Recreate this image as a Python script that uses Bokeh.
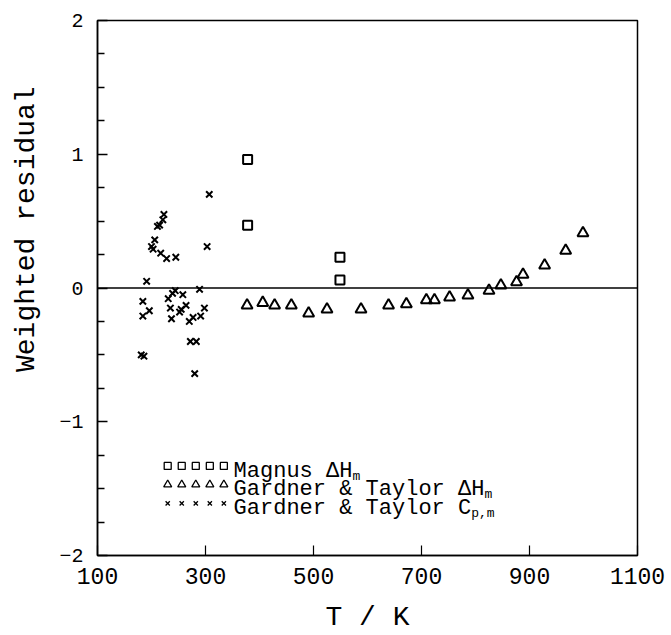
from bokeh.plotting import figure
from bokeh.models import FixedTicker, Span, Label
from bokeh.embed import file_html
from bokeh.resources import INLINE

# ---- data ----
magnus_T = [378, 378, 549, 549]
magnus_r = [0.96, 0.47, 0.23, 0.06]

gt_dh_T = [377, 406, 428, 459, 491, 525, 588, 639, 672, 709, 724, 752, 786,
           825, 847, 876, 888, 928, 967, 999]
gt_dh_r = [-0.13, -0.11, -0.13, -0.13, -0.19, -0.16, -0.16, -0.13, -0.12,
           -0.09, -0.09, -0.07, -0.055, -0.02, 0.02, 0.045, 0.10, 0.17, 0.28, 0.41]

gt_cp_T = [307, 223, 221, 211, 215, 206, 200, 203, 217, 228, 245, 303, 191,
           184, 196, 184, 181, 186, 231, 239, 244, 258, 289, 235, 252, 255,
           264, 237, 270, 277, 291, 298, 272, 283, 280]
gt_cp_r = [0.70, 0.55, 0.51, 0.46, 0.47, 0.36, 0.31, 0.29, 0.26, 0.22, 0.23,
           0.31, 0.05, -0.10, -0.17, -0.21, -0.50, -0.51, -0.08, -0.04, -0.02,
           -0.05, -0.01, -0.15, -0.18, -0.16, -0.13, -0.23, -0.25, -0.22, -0.21,
           -0.15, -0.40, -0.40, -0.64]

x_ticks = [100, 300, 500, 700, 900, 1100]
y_ticks = [-2, -1, 0, 1, 2]
y_minor = [-1.75, -1.5, -1.25, -0.75, -0.5, -0.25, 0.25, 0.5, 0.75, 1.25, 1.5, 1.75]

x_title = "T / K"
y_title = "Weighted residual"
legend_labels = ["Magnus \u0394H", "Gardner & Taylor \u0394H", "Gardner & Taylor C"]
legend_subs = ["m", "m", "p,m"]

FONT = "Liberation Mono"
NBSP = "\u00a0"

p = figure(width=671, height=635, x_range=(100, 1100), y_range=(-2, 2),
           output_backend="svg", toolbar_location=None,
           min_border_left=97, min_border_right=34, min_border_top=20,
           min_border_bottom=79)
p.grid.visible = False
p.outline_line_color = "black"
p.outline_line_width = 1.5
p.background_fill_color = "white"
p.border_fill_color = "white"

# x axis
xa = p.xaxis[0]
xa.ticker = FixedTicker(ticks=x_ticks)
xa.major_tick_in = 10
xa.major_tick_out = 0
xa.minor_tick_in = 0
xa.minor_tick_out = 0
xa.axis_line_width = 1.5
xa.major_tick_line_width = 1.2
xa.major_label_text_font = FONT
xa.major_label_text_font_size = "23px"
xa.major_label_text_color = "black"
xa.major_label_standoff = 12
xa.axis_label = x_title
xa.axis_label_text_font = FONT
xa.axis_label_text_font_size = "28px"
xa.axis_label_text_font_style = "normal"
xa.axis_label_text_color = "black"
xa.axis_label_standoff = 15

# y axis
ya = p.yaxis[0]
ya.ticker = FixedTicker(ticks=y_ticks, minor_ticks=y_minor)
ya.major_tick_in = 10
ya.major_tick_out = 0
ya.minor_tick_in = 7
ya.minor_tick_out = 0
ya.axis_line_width = 1.5
ya.major_tick_line_width = 1.5
ya.minor_tick_line_width = 1.5
ya.minor_tick_line_color = "black"
ya.major_label_text_font = FONT
ya.major_label_text_font_size = "20px"
ya.major_label_text_color = "black"
ya.major_label_standoff = 14
# leading no-break spaces lift the title above the axis centre, as in the original
ya.axis_label = NBSP * 7 + y_title
ya.axis_label_text_font = FONT
ya.axis_label_text_font_size = "28px"
ya.axis_label_text_font_style = "normal"
ya.axis_label_text_color = "black"
ya.axis_label_standoff = 14

# zero line
p.add_layout(Span(location=0, dimension="width", line_color="black", line_width=1.5))

# data
p.scatter(magnus_T, magnus_r, marker="square", size=9, fill_color=None,
          line_color="black", line_width=2)
p.scatter(gt_dh_T, gt_dh_r, marker="triangle", size=11, fill_color=None,
          line_color="black", line_width=2)
p.scatter(gt_cp_T, gt_cp_r, marker="x", size=9, line_color="black", line_width=2)

# legend (drawn in the style of the original: five sample markers + text)
LEG_T0 = 230
LEG_DT = 26
LEG_ROWS = [-1.37, -1.51, -1.65]
LEG_TEXT_T = 352
LEG_FS = 22
markers = ["square", "triangle", "x"]
msizes = [7, 8, 6]
for row, mk, ms, lab, sub in zip(LEG_ROWS, markers, msizes, legend_labels, legend_subs):
    xs = [LEG_T0 + i * LEG_DT for i in range(5)]
    p.scatter(xs, [row + 0.04] * 5, marker=mk, size=ms, fill_color=None,
              line_color="black", line_width=1.3)
    p.add_layout(Label(x=LEG_TEXT_T, y=row, text=lab, text_font=FONT,
                       text_font_size=f"{LEG_FS}px", text_color="black",
                       text_baseline="alphabetic", text_align="left"))
    p.add_layout(Label(x=LEG_TEXT_T, y=row, text=sub, text_font=FONT,
                       x_offset=len(lab) * 0.6 * LEG_FS, y_offset=-5,
                       text_font_size="13px", text_color="black",
                       text_baseline="alphabetic", text_align="left"))

open("out.html", "w").write(file_html(p, INLINE))
